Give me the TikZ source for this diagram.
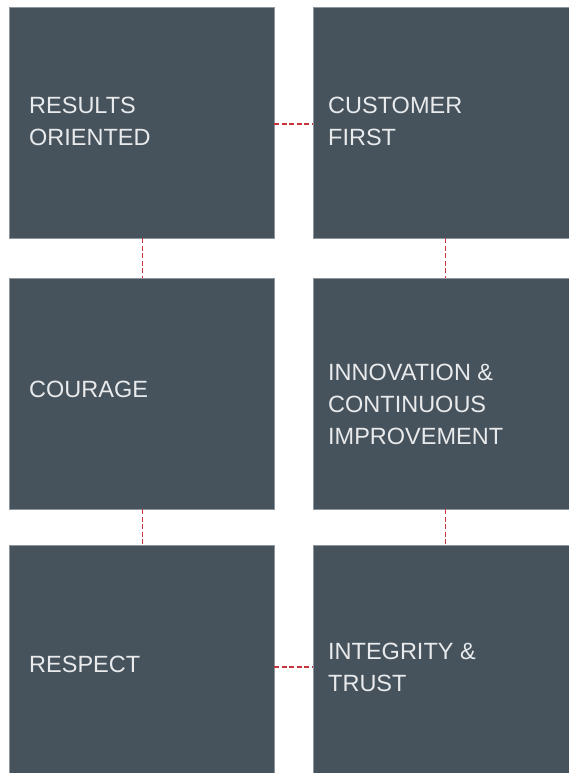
\documentclass[tikz,border=0pt]{standalone}
\usepackage{fontspec}
\setmainfont{Liberation Sans}
\definecolor{boxfill}{HTML}{46535D}
\definecolor{boxedge}{HTML}{8C969C}
\definecolor{linkred}{HTML}{CC3340}
\definecolor{textgray}{HTML}{E8EAEC}
\begin{document}
\begin{tikzpicture}[x=1pt,y=-1pt,
  box/.style={draw=boxedge, line width=0.5pt, fill=boxfill, minimum width=265pt, minimum height=231pt, inner sep=0pt, outer sep=0pt},
  lbl/.style={anchor=base west, align=left, text=textgray, inner sep=0pt, font=\fontsize{23.5}{32}\selectfont},
  link/.style={draw=linkred, line width=1.4pt, dash pattern=on 5pt off 2.5pt}]
\useasboundingbox (0,0) rectangle (569,773);
\begin{scope}
\clip (0,0) rectangle (569,773);
\node[box] (A) at (141.5,122.5) {};
\node[box] (B) at (445.5,122.5) {};
\node[box] (C) at (141.5,393.5) {};
\node[box] (D) at (445.5,393.5) {};
\node[box] (E) at (141.5,660.5) {};
\node[box] (F) at (445.5,660.5) {};
\node[lbl] (tA) at (29,145) {RESULTS\\ORIENTED};
\node[lbl] (tB) at (328,145) {CUSTOMER\\FIRST};
\node[lbl] (tC) at (29,397) {COURAGE};
\node[lbl] (tD) at (328,444) {INNOVATION \&\\CONTINUOUS\\IMPROVEMENT};
\node[lbl] (tE) at (29,672) {RESPECT};
\node[lbl] (tF) at (328,691) {INTEGRITY \&\\TRUST};
\draw[link] ([yshift=-1.5pt]A.east) -- ([yshift=-1.5pt]B.west);
\draw[link] ([xshift=1pt]A.south) -- ([xshift=1pt]C.north);
\draw[link] (B.south) -- (D.north);
\draw[link] ([xshift=1pt]C.south) -- ([xshift=1pt]E.north);
\draw[link] (D.south) -- (F.north);
\draw[link] ([yshift=-6.5pt]E.east) -- ([yshift=-6.5pt]F.west);
\end{scope}
\end{tikzpicture}
\end{document}
